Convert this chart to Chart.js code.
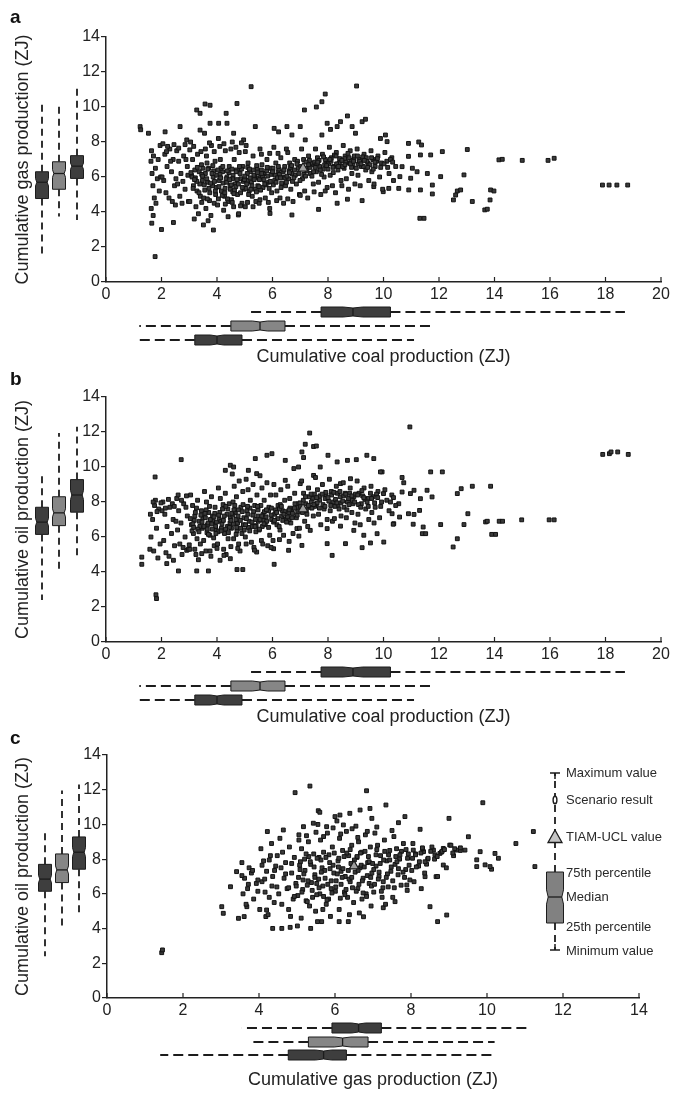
<!DOCTYPE html>
<html>
<head>
<meta charset="utf-8">
<title>Cumulative fossil fuel production</title>
<script src="https://cdn.jsdelivr.net/npm/chart.js@4/dist/chart.umd.min.js"></script>
<style>
  html, body { margin: 0; padding: 0; background: #ffffff; }
  #wrap { position: relative; width: 679px; height: 1093px; overflow: hidden; }
  canvas { position: absolute; left: 0; }
</style>
</head>
<body>
<div id="wrap">
  <canvas id="panelA" width="679" height="368" style="top:0px"></canvas>
  <canvas id="panelB" width="679" height="368" style="top:360px"></canvas>
  <canvas id="panelC" width="679" height="375" style="top:718px"></canvas>
</div>
<script>
// ---- Five-number summaries [min, q1, median, q3, max] for the three scenario groups (ZJ)
const coalBoxes = [[1.2, 3.2, 4.0, 4.9, 11.1], [1.2, 4.5, 5.55, 6.45, 11.7], [5.1, 7.75, 8.9, 10.25, 18.7]];
const gasBoxes  = [[1.4, 4.77, 5.7, 6.3, 10.2], [3.75, 5.3, 6.2, 6.87, 10.2], [3.55, 5.92, 6.62, 7.22, 11.15]];
const oilBoxes  = [[2.4, 6.15, 6.85, 7.7, 9.65], [3.95, 6.65, 7.38, 8.3, 11.95], [4.87, 7.42, 8.4, 9.28, 12.3]];
const boxFills  = ['#3e3e3e', '#868686', '#3e3e3e'];

// ---- TIAM-UCL reference values (ZJ)
const tiamCoal = 7.1, tiamGas = 6.5, tiamOil = 7.6;

// ---- Tick values
const coalTicks = [0, 2, 4, 6, 8, 10, 12, 14, 16, 18, 20];
const gasTicks  = [0, 2, 4, 6, 8, 10, 12, 14];
const fuelTicks = [0, 2, 4, 6, 8, 10, 12, 14];

// ---- Scenario results: [coal, gas]
const coalGasPoints = [
  [5.23,11.16],[9.03,11.2],[1.23,8.88],[1.25,8.7],[1.53,8.5],[1.77,1.45],
  [3.27,9.83],[3.57,10.17],[3.75,10.1],[4.33,9.64],[4.72,10.2],[3.39,9.64],[4.36,9.07],[3.75,9.07],[5.38,8.88],[6.06,8.78],
  [6.52,8.88],[7.0,8.88],[7.15,9.83],[7.58,10.0],[7.78,10.3],[7.9,10.74],[8.7,9.49],[9.23,9.16],[9.35,9.3],[8.45,9.16],
  [7.97,9.07],[8.09,8.72],[8.33,8.88],[8.87,8.88],[10.07,8.4],[10.13,8.02],[9.89,8.2],[2.13,8.58],[2.67,8.88],[2.91,8.12],
  [3.39,8.68],[4.06,9.07],[4.6,8.5],[4.96,8.12],[6.22,8.58],[6.7,8.4],[7.18,8.12],[7.78,8.4],[8.99,8.5],
  [1.65,3.36],[2.0,3.0],[2.43,3.4],[3.51,3.26],[3.87,2.97],[4.4,3.73],[4.77,3.83],[5.91,3.92],[6.7,3.83],[7.66,4.15],
  [8.33,4.5],[8.7,4.73],[9.23,4.65],[9.65,5.45],
  [10.9,7.92],[11.27,8.0],[11.37,7.83],[12.12,7.45],[13.02,7.57],[11.7,7.26],[10.9,7.18],[11.33,7.26],[10.67,6.59],[11.04,6.5],
  [11.58,6.2],[12.06,6.02],[12.9,6.12],[11.21,6.3],[10.59,6.02],[10.98,5.93],[10.91,5.26],[11.33,5.26],[11.76,5.54],[11.76,5.03],
  [10.55,5.35],[10.19,5.35],[9.99,5.16],[12.66,5.2],[12.78,5.26],[12.6,4.97],[12.52,4.69],[13.2,4.6],[13.86,5.26],[13.98,5.2],
  [13.84,4.69],[13.65,4.12],[13.74,4.16],[11.31,3.64],[11.46,3.64],[14.16,6.98],[14.28,7.01],[15.0,6.95],[15.93,6.95],[16.15,7.07],
  [17.89,5.54],[18.13,5.54],[18.41,5.54],[18.8,5.54],
  [1.64,7.5],[1.71,7.2],[1.62,6.9],[1.78,6.5],[1.66,6.2],[1.85,5.9],[1.69,5.5],[1.92,5.2],[1.74,4.8],[1.8,4.5],[1.63,4.2],
  [1.7,3.8],[1.95,7.8],[1.88,7.0],[1.97,6.0],
  [2.05,7.9],[2.3,7.6],[2.12,7.3],[2.42,7.0],[2.2,6.6],[2.36,6.3],[2.08,5.8],[2.47,5.5],[2.16,5.1],[2.27,4.8],[2.39,4.6],
  [2.5,4.4],[2.02,6.0],[2.33,6.9],[2.22,7.75],
  [2.55,7.5],[2.8,7.2],[2.62,6.9],[2.93,6.6],[2.7,6.2],[2.58,5.6],[2.85,5.3],[2.66,4.9],[2.97,4.6],[2.74,4.5],[2.88,7.0],
  [2.52,5.9],[2.77,5.75],[2.95,6.1],
  [3.05,8.0],[3.3,7.3],[3.12,7.0],[3.44,6.7],[3.2,6.4],[3.36,6.3],[3.08,6.1],[3.47,5.8],[3.15,5.5],[3.28,5.2],[3.4,4.9],
  [3.02,4.6],[3.24,4.3],[3.33,3.9],[3.18,3.6],[3.49,6.5],[3.1,6.0],[3.38,5.6],[3.22,5.95],
  [3.55,8.5],[3.8,7.8],[3.62,7.2],[3.93,6.9],[3.7,6.5],[3.58,6.2],[3.86,6.0],[3.66,5.7],[3.97,5.4],[3.74,5.1],[3.52,4.8],
  [3.9,4.5],[3.6,4.2],[3.78,3.8],[3.68,3.5],[3.84,5.5],[3.95,5.0],[3.64,6.8],[3.88,6.35],[3.73,4.65],
  [4.05,8.2],[4.3,7.5],[4.12,7.0],[4.44,6.6],[4.2,6.3],[4.36,6.0],[4.08,5.8],[4.47,5.5],[4.16,5.2],[4.27,4.9],[4.4,4.6],
  [4.02,4.4],[4.24,4.1],[4.33,5.9],[4.48,5.3],[4.14,6.5],[4.38,4.75],[4.22,5.65],
  [4.55,8.0],[4.8,7.4],[4.62,7.0],[4.93,6.6],[4.7,6.4],[4.58,6.1],[4.86,5.9],[4.66,5.6],[4.97,5.3],[4.74,5.0],[4.52,4.7],
  [4.9,4.5],[4.6,4.3],[4.78,3.9],[4.83,6.2],[4.68,5.45],[4.95,5.75],[4.57,5.15],
  [5.05,7.8],[5.3,7.2],[5.12,6.8],[5.44,6.5],[5.2,6.3],[5.36,6.0],[5.08,5.8],[5.47,5.5],[5.16,5.2],[5.27,4.9],[5.4,4.6],
  [5.02,4.3],[5.24,5.7],[5.33,6.1],[5.49,5.95],[5.11,6.55],[5.38,5.3],
  [5.55,7.6],[5.8,7.0],[5.62,6.7],[5.93,6.5],[5.7,6.2],[5.58,6.0],[5.86,5.7],[5.66,5.4],[5.97,5.1],[5.74,4.8],[5.52,4.5],
  [5.9,4.2],[5.6,6.4],[5.83,6.05],[5.77,5.55],
  [6.05,7.7],[6.3,7.1],[6.12,6.8],[6.44,6.6],[6.2,6.3],[6.36,6.0],[6.08,5.8],[6.47,5.5],[6.16,5.2],[6.27,4.8],[6.4,4.5],
  [6.02,6.5],[6.25,6.15],[6.33,5.65],
  [6.55,7.4],[6.8,7.0],[6.62,6.8],[6.93,6.5],[6.7,6.2],[6.58,5.9],[6.86,5.6],[6.66,5.3],[6.97,5.0],[6.74,4.6],[6.9,6.9],
  [6.6,6.35],[6.82,6.1],
  [7.05,7.6],[7.3,7.2],[7.12,7.0],[7.44,6.7],[7.2,6.5],[7.36,6.2],[7.08,5.9],[7.47,5.6],[7.16,5.2],[7.27,4.8],[7.4,6.8],
  [7.24,6.35],[7.33,6.95],
  [7.55,7.6],[7.8,7.3],[7.62,7.1],[7.93,6.9],[7.7,6.6],[7.58,6.3],[7.86,6.0],[7.66,5.7],[7.97,5.4],[7.74,5.0],[7.9,7.0],
  [7.52,6.85],[7.83,6.45],
  [8.05,7.7],[8.3,7.4],[8.12,7.1],[8.44,6.9],[8.2,6.6],[8.36,6.4],[8.08,6.1],[8.47,5.8],[8.16,5.5],[8.27,5.1],[8.4,6.8],
  [8.23,7.25],[8.02,6.75],
  [8.55,7.8],[8.8,7.5],[8.62,7.2],[8.93,7.0],[8.7,6.8],[8.58,6.5],[8.86,6.2],[8.66,5.9],[8.97,5.6],[8.74,5.3],[8.9,6.7],
  [8.6,7.05],[8.83,6.95],
  [9.05,7.6],[9.3,7.3],[9.12,7.0],[9.44,6.8],[9.2,6.6],[9.36,6.4],[9.08,6.1],[9.47,5.8],[9.16,5.5],[9.4,6.9],[9.25,7.15],[9.1,6.75],
  [9.55,7.5],[9.8,7.2],[9.62,7.0],[9.93,6.8],[9.7,6.6],[9.58,6.3],[9.86,6.0],[9.66,5.6],[9.97,5.3],[9.75,6.9],
  [10.05,7.4],[10.3,7.1],[10.12,6.9],[10.44,6.6],[10.2,6.2],[10.36,5.8],[10.25,7.0],
  [3.14,5.35],[3.27,5.75],[3.45,6.15],[3.56,5.25],[3.63,5.9],[3.71,5.35],[3.82,6.2],[3.91,5.75],[3.99,6.1],[4.07,5.45],
  [4.11,6.15],[4.19,4.95],[4.29,5.35],[4.35,5.7],[4.43,6.25],[4.51,5.55],[4.56,5.9],[4.63,5.25],[4.69,6.3],[4.77,5.6],
  [4.85,5.1],[4.88,6.45],[4.99,5.85],[5.04,5.35],[5.09,6.2],[5.14,5.0],[5.19,5.95],[5.26,5.5],[5.31,6.4],[5.42,5.15],
  [5.46,6.25],[5.53,5.85],[5.57,5.25],[5.64,6.05],[5.72,5.6],[5.79,6.35],[5.88,5.35],[5.95,6.15],[6.03,5.55],[6.1,6.1],
  [6.18,5.95],[6.23,6.45],[6.31,5.4],[6.38,6.3],[6.45,5.95],[6.52,6.05],[6.64,6.55],[6.72,5.75],[6.79,6.4],[6.95,6.2],
  [7.02,6.6],[7.13,6.15],[7.21,6.85],[7.35,6.55],[7.48,6.3],[7.6,6.75],[7.68,6.95],[7.77,6.15],[7.88,6.7],[8.0,6.45],
  [8.11,6.9],[8.19,6.25],[8.31,6.75],[8.42,7.05],[8.53,6.6],[8.64,6.85],[8.76,7.1],[8.85,6.55],[8.95,7.2],[9.02,6.5],
  [9.14,6.9],[9.27,6.6],[9.38,7.1],[9.51,6.7],[9.63,6.45],[9.78,7.05],[9.9,6.55],[10.02,6.75],[10.15,6.55],[10.33,6.85],
  [2.18,7.45],[2.45,7.85],[2.62,7.65],[2.85,7.85],[3.02,7.55],[3.16,7.75],[3.42,7.45],[3.58,7.6],[3.73,7.95],[3.9,7.45],
  [4.1,7.75],[4.25,7.9],[4.5,7.6],[4.68,7.7],[4.88,7.95],[5.02,7.45],[5.6,7.3],[5.9,7.35],[6.2,7.35],[6.5,7.6],
  [3.45,4.55],[3.65,4.75],[4.05,4.75],[4.3,4.45],[4.55,4.55],[4.85,4.35],[5.1,4.55],[5.3,4.3],[5.55,4.7],[5.85,4.55],
  [6.15,4.65],[6.55,4.75],[7.0,4.95],[7.5,5.15],[7.9,5.2],[8.5,5.5],
  [3.06,6.25],[3.19,5.85],[3.29,6.55],[3.35,5.1],[3.48,6.05],[3.54,5.55],[3.67,6.45],[3.77,5.65],[3.85,6.65],[3.94,5.2],
  [4.03,6.4],[4.13,5.95],[4.21,6.6],[4.28,5.1],[4.37,6.35],[4.46,5.85],[4.54,6.45],[4.61,5.05],[4.72,5.85],[4.81,6.6],
  [4.91,5.4],[5.0,6.05],[5.07,5.6],[5.17,6.45],[5.22,5.3],[5.34,5.85],[5.43,6.65],[5.51,5.45],[5.61,6.2],[5.69,5.85],
  [5.81,6.55],[5.92,5.75],[6.0,6.3],[6.13,5.7],[6.21,6.6],[6.29,5.95],[6.41,6.4],[6.5,5.7],[6.61,6.25],[6.69,6.65],
  [6.77,5.95],[6.88,6.75],[6.99,5.8],[7.1,6.45],[7.19,6.05],[7.3,6.7],[7.42,6.05],[7.54,6.55],[7.63,6.85],[7.72,6.4],
  [7.84,7.15],[7.95,6.65],[8.07,7.0],[8.18,6.55],[8.29,7.2],[8.38,6.6],[8.5,6.95],[8.61,6.7],[8.72,7.35],[8.81,6.75],
  [8.92,6.9],[9.06,7.2],[9.19,6.75],[9.31,6.95],[9.43,6.55],[9.57,7.1],[9.69,6.85]
];

// ---- Scenario results: [coal, oil]
const coalOilPoints = [
  [1.77,9.43],[2.71,10.42],[1.8,2.7],[1.82,2.48],[1.29,4.85],[1.29,4.44],[2.61,4.06],[3.27,4.06],[3.69,4.06],[4.72,4.14],
  [4.93,4.14],[6.06,4.44],
  [7.34,11.94],[7.18,11.3],[7.48,11.17],[7.58,11.2],[7.06,10.86],[7.12,10.54],[6.46,10.38],[5.98,10.76],[5.8,10.67],[5.38,10.48],
  [8.0,10.67],[8.33,10.29],[8.7,10.38],[9.02,10.42],[9.4,10.67],[9.65,10.48],[9.95,9.72],[4.48,10.1],[4.3,9.81],[4.6,10.0],
  [5.13,9.81],[5.43,9.62],[7.72,10.0],[6.94,10.0],[6.77,9.91],[6.46,9.24],[7.0,9.05],[7.48,9.52],[8.45,9.05],[8.81,9.33],
  [2.19,4.48],[2.43,4.67],[2.91,5.24],[4.11,4.67],[4.48,4.76],[5.43,5.14],[6.04,5.33],[6.58,5.24],[7.06,5.52],[7.97,5.62],
  [8.15,4.95],[8.63,5.62],[9.23,5.39],[9.53,5.66],[10.01,5.71],[10.37,6.76],
  [6.88,6.48],[7.36,6.38],[7.97,6.48],[8.45,6.62],[8.93,6.38],[9.29,6.1],[9.77,6.19],
  [10.95,12.29],[11.7,9.72],[12.12,9.72],[12.8,8.76],[12.66,8.48],[13.2,8.9],[13.86,8.9],[13.04,7.33],[13.68,6.86],[13.74,6.9],
  [14.17,6.9],[14.29,6.9],[14.98,6.98],[15.97,6.98],[16.15,6.98],[12.9,6.71],[12.06,6.71],[11.43,6.57],[11.4,6.19],[11.52,6.19],
  [11.07,6.73],[10.35,6.73],[12.66,5.9],[12.51,5.43],[13.9,6.15],[14.04,6.15],[17.9,10.72],[18.14,10.76],[18.2,10.86],[18.44,10.86],
  [18.82,10.72],[9.89,9.72],[10.67,9.4],[10.73,9.1],[10.67,8.57],[11.1,8.67],[11.57,8.67],[11.75,8.29],[11.33,8.19],[10.97,8.48],
  [10.55,7.9],[10.25,8.0],[10.0,8.48],[10.31,7.33],[10.58,7.14],[10.9,7.33],[11.3,7.52],[11.1,7.29],
  [1.6,7.3],[1.75,7.8],[1.68,7.0],[1.9,7.6],[1.82,6.5],[1.62,6.0],[1.95,5.6],[1.72,5.2],[1.87,4.8],[1.58,5.3],[1.78,8.1],
  [2.05,8.0],[2.3,7.7],[2.12,7.3],[2.42,7.0],[2.2,6.6],[2.36,6.2],[2.08,5.8],[2.47,5.5],[2.16,5.1],[2.27,4.9],[2.39,7.9],[2.02,7.5],
  [2.55,8.2],[2.8,7.9],[2.62,7.5],[2.93,7.2],[2.7,6.8],[2.58,6.4],[2.85,6.0],[2.66,5.6],[2.97,5.3],[2.74,5.0],[2.88,7.7],
  [2.52,6.9],[2.78,5.4],
  [3.05,8.4],[3.3,8.1],[3.12,7.8],[3.44,7.5],[3.2,7.2],[3.36,6.9],[3.08,6.7],[3.47,6.5],[3.15,6.2],[3.28,5.9],[3.4,5.6],
  [3.02,5.3],[3.24,5.0],[3.33,4.7],[3.18,6.95],[3.49,7.1],[3.1,6.35],[3.38,6.6],
  [3.55,8.6],[3.8,8.3],[3.62,8.0],[3.93,7.7],[3.7,7.4],[3.58,7.1],[3.86,6.9],[3.66,6.7],[3.97,6.4],[3.74,6.1],[3.52,5.8],
  [3.9,5.5],[3.6,5.2],[3.78,4.9],[3.68,6.8],[3.84,7.2],[3.95,6.6],[3.64,6.25],[3.88,5.95],
  [4.05,8.8],[4.3,8.5],[4.12,8.2],[4.44,7.9],[4.2,7.6],[4.36,7.3],[4.08,7.0],[4.47,6.8],[4.16,6.5],[4.27,6.2],[4.4,5.9],
  [4.02,5.6],[4.24,5.3],[4.33,5.0],[4.48,7.1],[4.14,6.9],[4.38,6.6],[4.22,7.85],
  [4.55,9.6],[4.8,9.2],[4.62,8.9],[4.93,8.6],[4.7,8.3],[4.58,8.0],[4.86,7.7],[4.66,7.4],[4.97,7.1],[4.74,6.8],[4.52,6.5],
  [4.9,6.2],[4.6,5.9],[4.78,5.6],[4.83,5.2],[4.68,7.0],[4.95,6.7],[4.57,7.25],[4.72,6.35],
  [5.05,9.3],[5.3,9.0],[5.12,8.7],[5.44,8.4],[5.2,8.1],[5.36,7.8],[5.08,7.5],[5.47,7.2],[5.16,6.9],[5.27,6.6],[5.4,6.3],
  [5.02,6.0],[5.24,5.7],[5.33,5.4],[5.49,6.9],[5.11,7.3],[5.38,7.0],
  [5.55,9.5],[5.8,9.1],[5.62,8.8],[5.93,8.4],[5.7,8.1],[5.58,7.8],[5.86,7.5],[5.66,7.3],[5.97,7.0],[5.74,6.7],[5.52,6.4],
  [5.9,6.1],[5.6,5.8],[5.83,5.5],[5.77,7.15],[5.68,6.95],
  [6.05,9.0],[6.3,8.7],[6.12,8.4],[6.44,8.1],[6.2,7.8],[6.36,7.5],[6.08,7.3],[6.47,7.0],[6.16,6.7],[6.27,6.4],[6.4,6.1],
  [6.02,5.8],[6.25,7.6],[6.33,7.2],
  [6.55,8.9],[6.8,8.5],[6.62,8.2],[6.93,7.9],[6.7,7.6],[6.58,7.4],[6.86,7.1],[6.66,6.8],[6.97,6.5],[6.74,6.2],[6.9,7.7],[6.6,7.0],
  [7.05,9.2],[7.3,8.8],[7.12,8.5],[7.44,8.2],[7.2,7.9],[7.36,7.7],[7.08,7.4],[7.47,7.2],[7.16,6.9],[7.27,6.6],[7.4,8.0],[7.24,7.3],
  [7.55,9.4],[7.8,9.0],[7.62,8.7],[7.93,8.4],[7.7,8.1],[7.58,7.9],[7.86,7.6],[7.66,7.3],[7.97,7.0],[7.74,6.7],[7.9,8.2],[7.52,7.75],
  [8.05,9.3],[8.3,8.9],[8.12,8.6],[8.44,8.3],[8.2,8.0],[8.36,7.8],[8.08,7.5],[8.47,7.2],[8.16,6.9],[8.27,8.15],[8.4,7.6],[8.23,7.05],
  [8.55,9.1],[8.8,8.8],[8.62,8.5],[8.93,8.3],[8.7,8.0],[8.58,7.7],[8.86,7.4],[8.66,7.1],[8.97,6.8],[8.74,8.2],[8.9,7.9],
  [9.05,9.2],[9.3,8.8],[9.12,8.5],[9.44,8.2],[9.2,7.9],[9.36,7.6],[9.08,7.3],[9.47,7.0],[9.16,6.7],[9.25,8.35],
  [9.55,8.9],[9.8,8.6],[9.62,8.3],[9.93,8.0],[9.7,7.7],[9.58,7.4],[9.86,7.1],[9.66,6.8],[9.75,8.45],
  [10.05,8.7],[10.3,8.4],[10.12,8.1],[10.44,7.8],[10.2,7.5],[10.36,8.25],
  [3.13,6.75],[3.22,7.4],[3.31,6.45],[3.42,7.25],[3.53,6.6],[3.61,7.55],[3.69,6.15],[3.76,7.0],[3.83,6.45],[3.92,7.35],
  [3.98,6.85],[4.04,6.3],[4.1,7.4],[4.18,6.75],[4.26,7.2],[4.31,6.45],[4.39,7.6],[4.45,6.55],[4.53,7.35],[4.59,6.75],
  [4.64,7.8],[4.71,6.55],[4.77,7.55],[4.84,6.95],[4.91,7.45],[4.98,6.4],[5.06,7.05],[5.13,6.55],[5.19,7.65],[5.26,6.85],
  [5.32,7.45],[5.41,6.65],[5.48,7.55],[5.55,7.0],[5.63,6.6],[5.71,7.45],[5.79,6.9],[5.87,7.7],[5.95,7.25],[6.04,6.85],
  [6.11,7.55],[6.19,7.05],[6.28,7.85],[6.37,6.95],[6.45,7.45],[6.54,7.15],[6.63,7.65],[6.72,7.35],[6.81,7.9],[6.91,7.45],
  [7.01,7.75],[7.11,8.1],[7.22,7.55],[7.32,8.3],[7.42,7.65],[7.51,8.45],[7.61,7.95],[7.71,8.35],[7.82,7.85],[7.92,8.55],
  [8.03,8.05],[8.13,8.4],[8.25,7.75],[8.34,8.5],[8.46,7.95],[8.57,8.35],[8.68,7.55],[8.78,8.5],[8.88,8.1],[8.99,8.45],
  [9.1,7.85],[9.22,8.65],[9.33,8.15],[9.45,7.75],[9.57,8.2],[9.68,7.95],[9.79,8.25],[9.9,7.75],
  [1.7,8.0],[1.84,7.45],[1.98,7.95],[2.14,7.65],[2.25,8.15],[2.46,7.75],[2.6,8.4],[2.72,8.1],[2.9,8.35],
  [3.0,5.55],[3.2,5.3],[3.45,5.05],[3.75,5.2],[4.0,5.35],[4.25,4.95],[4.5,5.45],[4.75,5.35],[5.05,5.6],[5.35,5.25],
  [5.65,5.6],[5.95,5.4],[6.25,5.85],[6.6,5.75],[6.95,6.05],
  [3.04,7.05],[3.16,6.55],[3.26,7.65],[3.35,6.3],[3.46,6.85],[3.57,7.35],[3.65,6.45],[3.73,7.75],[3.81,6.75],[3.89,7.15],
  [3.96,6.2],[4.06,7.25],[4.15,6.35],[4.23,6.95],[4.32,7.75],[4.41,6.25],[4.5,6.95],[4.61,7.55],[4.69,6.15],[4.76,7.2],
  [4.85,6.5],[4.94,7.85],[5.03,6.7],[5.1,7.75],[5.18,6.35],[5.29,7.25],[5.37,6.6],[5.46,7.75],[5.53,6.45],[5.61,7.2],
  [5.69,6.75],[5.78,7.55],[5.86,6.55],[5.96,7.65],[6.07,6.95],[6.15,7.4],[6.24,6.6],[6.32,7.75],[6.41,7.3],[6.51,6.85],
  [6.6,7.55],[6.7,7.1],[6.79,7.65],[6.89,7.25],[6.99,7.95],[7.09,7.6],[7.19,8.3],[7.29,7.8],[7.39,8.45],[7.49,7.85],
  [7.59,8.25],[7.69,7.65],[7.79,8.45],[7.89,7.75],[8.0,8.25],[8.1,7.8],[8.21,8.55],[8.32,7.95],[8.43,8.6],[8.53,8.05],
  [8.64,8.45],[8.76,7.85],[8.86,8.35],[8.96,8.0],[9.07,8.4],[9.18,7.7],[9.29,8.25],[9.41,8.0],[9.53,8.5]
];

// ---- Scenario results: [gas, oil]
const gasOilPoints = [
  [1.44,2.61],[1.46,2.77],[5.34,12.21],[4.95,11.83],[6.83,11.94],[9.89,11.25],
  [5.56,10.79],[5.6,10.7],[6.92,10.92],[7.34,11.12],[6.97,10.35],[6.66,10.83],[6.39,10.64],[6.13,10.54],[6.0,10.45],[7.84,10.45],
  [7.67,10.1],[9.0,10.35],[8.24,9.72],[4.22,9.59],[4.64,9.68],[5.17,9.87],[5.43,10.07],[5.78,9.87],[6.22,9.97],[9.51,9.29],
  [10.76,8.9],[11.22,9.59],[11.26,7.57],[9.82,8.43],[10.21,8.33],[10.3,8.05],[9.73,7.96],[9.95,7.67],[10.12,7.42],[10.08,7.57],
  [9.73,7.57],
  [8.59,8.52],[8.85,8.62],[9.02,8.81],[9.2,8.52],[9.42,8.52],[8.76,8.33],[8.33,8.43],[8.06,8.52],
  [8.5,5.26],[8.94,4.78],[8.7,4.4],[8.37,6.99],[8.66,6.99],[8.85,7.66],[8.41,7.71],[7.89,6.51],[7.58,5.55],[7.27,5.2],
  [6.75,4.68],[6.35,4.4],[6.11,4.4],
  [4.36,4.01],[4.6,4.01],[4.82,4.07],[5.01,4.15],[5.36,4.01],[5.65,4.4],
  [3.02,5.26],[3.06,4.88],[3.46,4.59],[3.61,4.69],[3.25,6.41],[3.41,7.28],[3.68,5.26],[4.18,4.69],[4.2,5.07],
  [3.55,7.8],[3.8,7.2],[3.62,6.9],[3.93,6.6],[3.7,6.3],[3.58,6.0],[3.86,5.7],[3.66,5.4],[3.97,6.8],[3.74,7.5],
  [4.05,8.6],[4.3,8.2],[4.12,7.9],[4.44,7.6],[4.2,7.3],[4.36,7.0],[4.08,6.7],[4.47,6.4],[4.16,6.1],[4.27,5.8],[4.4,5.5],
  [4.02,5.1],[4.24,4.8],[4.33,8.9],
  [4.55,9.2],[4.8,8.7],[4.62,8.4],[4.93,8.1],[4.7,7.8],[4.58,7.5],[4.86,7.2],[4.66,6.9],[4.97,6.6],[4.74,6.3],[4.52,6.0],
  [4.9,5.7],[4.6,5.4],[4.78,5.1],[4.83,4.7],
  [5.05,9.4],[5.3,9.0],[5.12,8.6],[5.44,8.3],[5.2,8.0],[5.36,7.7],[5.08,7.4],[5.47,7.1],[5.16,6.8],[5.27,6.5],[5.4,6.2],
  [5.02,5.9],[5.24,5.6],[5.33,5.3],[5.49,5.0],[5.11,4.6],
  [5.55,10.0],[5.8,9.5],[5.62,9.1],[5.93,8.7],[5.7,8.4],[5.58,8.1],[5.86,7.8],[5.66,7.5],[5.97,7.2],[5.74,6.9],[5.52,6.6],
  [5.9,6.3],[5.6,6.0],[5.83,5.7],[5.77,5.4],[5.68,5.1],[5.88,4.7],[5.54,4.4],
  [6.05,10.2],[6.3,9.6],[6.12,9.2],[6.44,8.8],[6.2,8.5],[6.36,8.2],[6.08,7.9],[6.47,7.6],[6.16,7.3],[6.27,7.0],[6.4,6.7],
  [6.02,6.4],[6.25,6.1],[6.33,5.8],[6.49,5.5],[6.11,5.1],[6.38,4.8],
  [6.55,9.9],[6.8,9.4],[6.62,9.0],[6.93,8.7],[6.7,8.4],[6.58,8.1],[6.86,7.8],[6.66,7.5],[6.97,7.2],[6.74,6.9],[6.9,6.6],
  [6.6,6.3],[6.82,6.0],[6.71,5.7],[6.95,5.3],[6.64,4.9],
  [7.05,9.5],[7.3,9.1],[7.12,8.8],[7.44,8.5],[7.2,8.2],[7.36,7.9],[7.08,7.6],[7.47,7.3],[7.16,7.0],[7.27,6.7],[7.4,6.4],
  [7.02,6.1],[7.24,5.8],[7.33,5.4],
  [7.55,9.3],[7.8,8.9],[7.62,8.6],[7.93,8.3],[7.7,8.0],[7.58,7.7],[7.86,7.4],[7.66,7.1],[7.97,6.8],[7.74,6.5],[7.9,6.2],[7.52,5.8],
  [8.05,8.9],[8.3,8.6],[8.12,8.3],[8.44,8.0],[8.2,7.6],[8.36,7.2],[8.08,6.7],[8.27,6.3],
  [8.55,8.7],[8.8,8.4],[8.62,8.0],[8.93,7.5],[8.7,7.0],
  [9.05,8.8],[9.3,8.5],[9.12,8.2],
  [4.7,7.15],[4.78,6.35],[4.86,7.75],[4.93,5.85],[5.04,6.95],[5.09,7.85],[5.15,6.25],[5.21,7.35],[5.27,5.55],[5.31,8.15],
  [5.38,6.65],[5.45,7.55],[5.52,5.95],[5.57,6.85],[5.63,7.95],[5.68,6.45],[5.73,7.35],[5.79,5.65],[5.84,8.25],[5.9,6.75],
  [5.95,7.65],[6.01,6.15],[6.06,7.15],[6.1,8.05],[6.16,6.55],[6.21,7.45],[6.26,5.95],[6.31,8.35],[6.37,6.85],[6.42,7.75],
  [6.46,6.35],[6.53,7.25],[6.58,8.15],[6.63,6.55],[6.69,7.65],[6.74,6.05],[6.79,8.45],[6.85,7.05],[6.9,7.85],[6.96,6.45],
  [7.02,7.4],[7.08,8.25],[7.14,6.85],[7.19,7.75],[7.26,6.35],[7.31,8.45],[7.38,7.15],[7.44,7.95],[7.52,6.75],[7.6,8.15],
  [7.67,7.45],[7.75,8.45],[7.83,6.95],[7.91,8.05],[8.02,7.35],[8.12,8.25],[8.22,7.85],[8.3,8.65],[8.45,8.05],[8.63,8.25],
  [8.82,8.45],[9.1,8.35],[9.3,8.65],
  [3.55,7.05],[3.72,6.55],[3.83,7.35],[3.97,6.15],[4.08,7.65],[4.15,6.85],[4.27,7.95],[4.34,6.45],[4.41,7.35],[4.48,8.2],
  [5.05,9.1],[5.25,9.35],[5.5,9.55],[5.7,9.3],[5.95,9.8],[6.15,9.45],[6.45,9.75],[6.6,9.25],[6.85,9.6],[7.1,9.85],[7.5,9.65],
  [4.98,6.45],[5.07,7.65],[5.13,6.1],[5.18,7.15],[5.24,8.3],[5.29,6.75],[5.35,7.85],[5.41,5.8],[5.47,6.95],[5.53,8.05],
  [5.58,6.35],[5.64,7.25],[5.7,5.85],[5.76,8.1],[5.81,6.55],[5.87,7.45],[5.92,6.05],[5.98,8.35],[6.03,6.75],[6.09,7.55],
  [6.14,5.75],[6.19,6.95],[6.24,8.15],[6.29,6.25],[6.35,7.35],[6.4,8.55],[6.44,6.95],[6.51,7.95],[6.56,6.15],[6.61,7.35],
  [6.67,8.35],[6.72,6.75],[6.77,7.55],[6.83,5.85],[6.88,8.15],[6.94,6.95],[6.99,7.75],[7.04,6.55],[7.1,8.55],[7.16,7.25],
  [7.22,6.15],[7.28,7.95],[7.35,6.95],[7.41,8.25],[7.48,7.55],[7.56,6.35],[7.63,7.85],[7.71,8.25],[7.79,7.25],[7.87,8.55],
  [7.95,7.65],[8.04,8.05],[8.14,7.55],[8.26,8.35],[8.37,7.85],[8.52,8.45],[8.69,8.15],[8.88,8.55],[9.15,8.6]
];

const FONT = '"Liberation Sans", Arial, Helvetica, sans-serif';
const INK = '#222222';
Chart.defaults.font.family = FONT;
Chart.defaults.color = INK;

// Notched box with dashed whiskers; px = [min, q1, median, q3, max] in pixels along the value axis.
function drawBoxPx(ctx, dir, pos, px, fill, half, dash) {
  const [mn, q1, md, q3, mx] = px;
  const pt = dir === 'v' ? (a, b) => [b, a] : (a, b) => [a, b];
  const seg = (a0, a1) => {
    ctx.beginPath();
    ctx.moveTo(...pt(a0, pos));
    ctx.lineTo(...pt(a1, pos));
    ctx.stroke();
  };
  ctx.save();
  ctx.strokeStyle = '#1c1c1c';
  ctx.lineWidth = 1.8;
  ctx.setLineDash(dash);
  seg(q1, mn);
  seg(q3, mx);
  ctx.setLineDash([]);
  const nl = Math.abs(q3 - q1) * 0.14;
  const d1 = Math.sign(q1 - md), d3 = Math.sign(q3 - md);
  const depth = half * 0.2;
  const outline = [
    [q1, pos - half], [md + d1 * nl, pos - half], [md, pos - half + depth], [md + d3 * nl, pos - half], [q3, pos - half],
    [q3, pos + half], [md + d3 * nl, pos + half], [md, pos + half - depth], [md + d1 * nl, pos + half], [q1, pos + half]
  ];
  ctx.beginPath();
  outline.forEach(([a, b], i) => {
    const [x, y] = pt(a, b);
    if (i) ctx.lineTo(x, y); else ctx.moveTo(x, y);
  });
  ctx.closePath();
  ctx.fillStyle = fill;
  ctx.fill();
  ctx.lineWidth = 1;
  ctx.stroke();
  ctx.lineWidth = 1.3;
  ctx.beginPath();
  ctx.moveTo(...pt(md, pos - half + depth));
  ctx.lineTo(...pt(md, pos + half - depth));
  ctx.stroke();
  ctx.restore();
}

function drawBox(ctx, dir, pos, stats, scale, fill, half, dash) {
  drawBoxPx(ctx, dir, pos, stats.map(v => scale.getPixelForValue(v)), fill, half, dash);
}

// Key explaining the box-plot symbols
function drawKey(ctx) {
  const x = 555;
  const yMax = 55, yRes = 82, yTiam = 119, yQ3 = 154, yMed = 179, yQ1 = 205, yMin = 232;
  drawBoxPx(ctx, 'v', x, [yMin, yQ1, yMed, yQ3, yMax], '#818181', 8.5, [7, 5]);
  ctx.save();
  ctx.strokeStyle = '#1c1c1c';
  ctx.lineWidth = 1.5;
  [[yMax, 1], [yMin, -1]].forEach(([y, s]) => {
    ctx.beginPath();
    ctx.moveTo(x - 5, y); ctx.lineTo(x + 5, y);
    ctx.moveTo(x, y); ctx.lineTo(x, y + s * 6);
    ctx.stroke();
  });
  ctx.beginPath();
  ctx.ellipse(x, yRes, 1.9, 3.8, 0, 0, Math.PI * 2);
  ctx.fillStyle = '#ffffff';
  ctx.fill();
  ctx.lineWidth = 1.4;
  ctx.stroke();
  ctx.beginPath();
  ctx.moveTo(x, yTiam - 7); ctx.lineTo(x + 7, yTiam + 5.5); ctx.lineTo(x - 7, yTiam + 5.5);
  ctx.closePath();
  ctx.fillStyle = '#c4c4c4';
  ctx.fill();
  ctx.lineWidth = 1.3;
  ctx.stroke();
  ctx.fillStyle = '#2a2a2a';
  ctx.font = '13px ' + FONT;
  ctx.textAlign = 'left';
  ctx.textBaseline = 'middle';
  [['Maximum value', 55], ['Scenario result', 82], ['TIAM-UCL value', 119], ['75th percentile', 155],
   ['Median', 179], ['25th percentile', 209], ['Minimum value', 233]].forEach(([t, y]) => ctx.fillText(t, 566, y));
  ctx.restore();
}

function marginPlugin(cfg) {
  return {
    id: 'margins' + cfg.letter,
    afterDraw(chart) {
      const ctx = chart.ctx, area = chart.chartArea;
      const xs = chart.scales.x, ys = chart.scales.y;
      ctx.save();
      // inward tick marks on the x axis
      ctx.strokeStyle = INK;
      ctx.lineWidth = 1.2;
      xs.ticks.forEach(t => {
        const px = xs.getPixelForValue(t.value);
        ctx.beginPath();
        ctx.moveTo(px, area.bottom);
        ctx.lineTo(px, area.bottom - 5);
        ctx.stroke();
      });
      // scenario distributions of the y variable, left of the axis
      cfg.yBoxes.forEach((s, i) => drawBox(ctx, 'v', cfg.yBoxX[i], s, ys, boxFills[i], 6.5, [7, 5]));
      // scenario distributions of the x variable, below the axis
      cfg.xBoxes.forEach((s, i) => drawBox(ctx, 'h', area.bottom + cfg.rowOffsets[i], s, xs, boxFills[i], 5, [10, 5]));
      // panel letter
      ctx.fillStyle = '#111111';
      ctx.font = 'bold 19px ' + FONT;
      ctx.textAlign = 'left';
      ctx.textBaseline = 'alphabetic';
      ctx.fillText(cfg.letter, 10, cfg.letterY);
      ctx.restore();
      if (cfg.key) drawKey(ctx);
    }
  };
}

function buildPanel(id, cfg) {
  return new Chart(document.getElementById(id), {
    type: 'scatter',
    data: {
      datasets: [
        {
          label: 'TIAM-UCL',
          data: [{ x: cfg.tiam[0], y: cfg.tiam[1] }],
          pointStyle: 'triangle',
          pointRadius: 5.5,
          backgroundColor: '#a0a0a0',
          borderColor: '#1c1c1c',
          borderWidth: 1.2
        },
        {
          label: 'Scenario results',
          data: cfg.points.map(([x, y]) => ({ x, y })),
          pointStyle: 'rect',
          pointRadius: 2.7,
          backgroundColor: '#3a3a3a',
          borderColor: '#121212',
          borderWidth: 1
        }
      ]
    },
    options: {
      responsive: false,
      animation: false,
      events: [],
      layout: { padding: { top: 37, right: cfg.right, bottom: 0, left: 0 } },
      plugins: { legend: { display: false }, tooltip: { enabled: false } },
      scales: {
        x: {
          type: 'linear',
          min: 0,
          max: cfg.xTicks[cfg.xTicks.length - 1],
          afterFit: s => { s.height = cfg.xHeight; },
          afterBuildTicks: s => { s.ticks = cfg.xTicks.map(v => ({ value: v })); },
          ticks: { padding: 3, font: { size: 16 }, color: INK, maxRotation: 0, autoSkip: false },
          grid: { display: false, drawTicks: false },
          border: { display: true, color: INK, width: 1.5 },
          title: { display: true, text: cfg.xTitle, font: { size: 18 }, color: INK, padding: { top: 0, bottom: cfg.xTitlePad } }
        },
        y: {
          type: 'linear',
          min: 0,
          max: 14,
          afterFit: s => { s.width = cfg.yWidth; },
          afterBuildTicks: s => { s.ticks = fuelTicks.map(v => ({ value: v })); },
          ticks: { padding: 1, font: { size: 16 }, color: INK, autoSkip: false },
          grid: { drawOnChartArea: false, drawTicks: true, tickLength: 5, color: INK, lineWidth: 1.2 },
          border: { display: true, color: INK, width: 1.5 },
          title: { display: true, text: cfg.yTitle, font: { size: 18 }, color: INK, padding: { top: 12, bottom: 0 } }
        }
      }
    },
    plugins: [marginPlugin(cfg)]
  });
}

buildPanel('panelA', {
  letter: 'a', letterY: 23, points: coalGasPoints, tiam: [tiamCoal, tiamGas],
  xTicks: coalTicks, right: 18, xHeight: 86, yWidth: 106, xTitlePad: 0,
  xTitle: 'Cumulative coal production (ZJ)', yTitle: 'Cumulative gas production (ZJ)',
  yBoxes: gasBoxes, yBoxX: [42, 59, 77], xBoxes: coalBoxes, rowOffsets: [58, 44, 30], key: false
});

buildPanel('panelB', {
  letter: 'b', letterY: 25, points: coalOilPoints, tiam: [tiamCoal, tiamOil],
  xTicks: coalTicks, right: 18, xHeight: 86, yWidth: 106, xTitlePad: 0,
  xTitle: 'Cumulative coal production (ZJ)', yTitle: 'Cumulative oil production (ZJ)',
  yBoxes: oilBoxes, yBoxX: [42, 59, 77], xBoxes: coalBoxes, rowOffsets: [58, 44, 30], key: false
});

buildPanel('panelC', {
  letter: 'c', letterY: 26, points: gasOilPoints, tiam: [tiamGas, tiamOil],
  xTicks: gasTicks, right: 40, xHeight: 95, yWidth: 107, xTitlePad: 2,
  xTitle: 'Cumulative gas production (ZJ)', yTitle: 'Cumulative oil production (ZJ)',
  yBoxes: oilBoxes, yBoxX: [45, 62, 79], xBoxes: gasBoxes, rowOffsets: [57, 44, 30], key: true
});
</script>
</body>
</html>
